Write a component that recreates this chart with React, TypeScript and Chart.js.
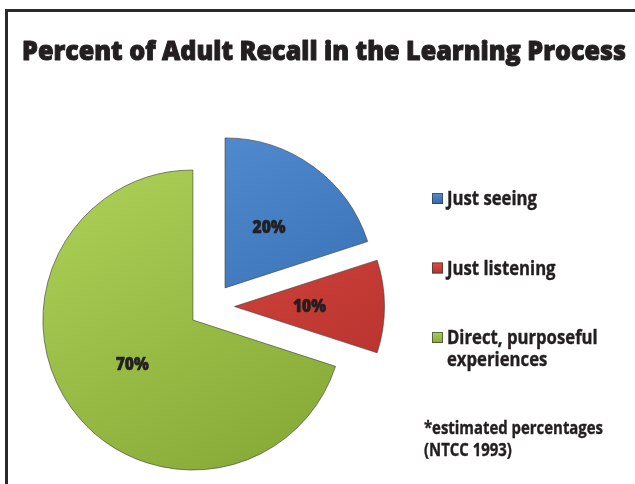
import React, { useEffect, useRef } from 'react';
import { Chart, registerables } from 'chart.js';

Chart.register(...registerables);

const TITLE = 'Percent of Adult Recall in the Learning Process';
const categories: (string | string[])[] = ['Just seeing', 'Just listening', ['Direct, purposeful', 'experiences']];
const values = [20, 10, 70];
const footnote = ['*estimated percentages', '(NTCC 1993)'];
const lightColors = ['#558dd2', '#de4e46', '#abce56'];
const darkColors = ['#2f67ab', '#b5302b', '#86aa36'];

const TEXT = '#231f20';
const FONT = '"Open Sans"';
const EXPLODE = 23;
const RADIUS = 150;

// horizontal condensing factor so that `sample` at the given font spans `width`
function condense(ctx: CanvasRenderingContext2D, font: string, sample: string, width: number) {
  ctx.font = font;
  return width / ctx.measureText(sample).width;
}

function drawScaled(ctx: CanvasRenderingContext2D, text: string, x: number, y: number, sx: number, stroke = 0) {
  ctx.save();
  ctx.translate(x, y);
  ctx.scale(sx, 1);
  ctx.fillText(text, 0, 0);
  if (stroke > 0) {
    ctx.strokeStyle = TEXT;
    ctx.lineWidth = stroke;
    ctx.lineJoin = 'round';
    ctx.strokeText(text, 0, 0);
  }
  ctx.restore();
}

const explodePlugin = {
  id: 'explode',
  afterDatasetsUpdate(chart: any) {
    const meta = chart.getDatasetMeta(0);
    meta.data.forEach((el: any) => {
      const a = (el.startAngle + el.endAngle) / 2;
      el.x += Math.cos(a) * EXPLODE;
      el.y += Math.sin(a) * EXPLODE;
    });
  },
};

const textPlugin = {
  id: 'texts',
  afterDraw(chart: any) {
    const ctx: CanvasRenderingContext2D = chart.ctx;
    ctx.save();
    ctx.fillStyle = TEXT;
    ctx.textBaseline = 'alphabetic';
    ctx.textAlign = 'left';

    // title
    const titleFont = `800 27px ${FONT}`;
    const ts = condense(ctx, titleFont, TITLE, 604);
    ctx.font = titleFont;
    drawScaled(ctx, TITLE, 22, 60, ts, 1);

    // value labels
    const meta = chart.getDatasetMeta(0);
    const valFont = `800 17px ${FONT}`;
    const vs = condense(ctx, valFont, '20%', 33);
    ctx.font = valFont;
    ctx.textAlign = 'center';
    ctx.textBaseline = 'middle';
    meta.data.forEach((el: any, i: number) => {
      const p = el.tooltipPosition();
      drawScaled(ctx, `${values[i]}%`, p.x, p.y + 1, vs, 0.6);
    });

    // legend
    ctx.textAlign = 'left';
    ctx.textBaseline = 'alphabetic';
    const legFont = `700 19.5px ${FONT}`;
    const ls = condense(ctx, legFont, 'Just seeing', 90);
    ctx.font = legFont;
    const lx = 432;
    let base = 205;
    categories.forEach((lab, i) => {
      const g = ctx.createLinearGradient(0, base - 12, 0, base - 1);
      g.addColorStop(0, lightColors[i]);
      g.addColorStop(1, darkColors[i]);
      ctx.fillStyle = g;
      ctx.fillRect(lx, base - 12, 11, 11);
      ctx.strokeStyle = 'rgba(60,60,60,0.7)';
      ctx.lineWidth = 1;
      ctx.strokeRect(lx + 0.5, base - 11.5, 10, 10);
      ctx.fillStyle = TEXT;
      const lines = Array.isArray(lab) ? lab : [lab];
      lines.forEach((ln, j) => drawScaled(ctx, ln, lx + 15, base + j * 22, ls, 0.4));
      base += 69.5;
    });

    // footnote
    const fnFont = `700 18.5px ${FONT}`;
    const fs = condense(ctx, fnFont, footnote[0], 179);
    ctx.font = fnFont;
    footnote.forEach((ln, j) => drawScaled(ctx, ln, 424, 434 + j * 22, fs, 0.4));
    ctx.restore();
  },
};

export default function App() {
  const ref = useRef<HTMLCanvasElement | null>(null);

  useEffect(() => {
    if (!ref.current) return;
    const chart = new Chart(ref.current, {
      type: 'pie',
      data: {
        labels: categories as any,
        datasets: [
          {
            data: values,
            radius: RADIUS,
            borderWidth: 1,
            borderColor: 'rgba(60,60,60,0.6)',
            backgroundColor: (c: any) => {
              const i = c.dataIndex;
              const area = c.chart.chartArea;
              if (!area) return lightColors[i];
              const cx = (area.left + area.right) / 2;
              const cy = (area.top + area.bottom) / 2;
              const g = c.chart.ctx.createLinearGradient(cx - RADIUS * 0.6, cy - RADIUS, cx + RADIUS * 0.6, cy + RADIUS);
              g.addColorStop(0, lightColors[i]);
              g.addColorStop(1, darkColors[i]);
              return g;
            },
          } as any,
        ],
      },
      options: {
        responsive: false,
        animation: false,
        events: [],
        layout: { padding: { left: 0, top: 129, right: 212, bottom: 0 } },
        plugins: {
          legend: { display: false },
          title: { display: false },
          tooltip: { enabled: false },
        },
      },
      plugins: [explodePlugin, textPlugin],
    });
    return () => chart.destroy();
  }, []);

  return (
    <div style={{ position: 'absolute', left: 0, top: 0, width: 635, height: 484, overflow: 'hidden', background: '#fff' }}>
      <div
        style={{
          position: 'absolute',
          left: 5,
          top: 9,
          width: 700,
          height: 600,
          border: '3px solid #2a2a2a',
          boxSizing: 'border-box',
        }}
      />
      <canvas ref={ref} width={635} height={484} style={{ position: 'absolute', left: 0, top: 0 }} />
    </div>
  );
}
